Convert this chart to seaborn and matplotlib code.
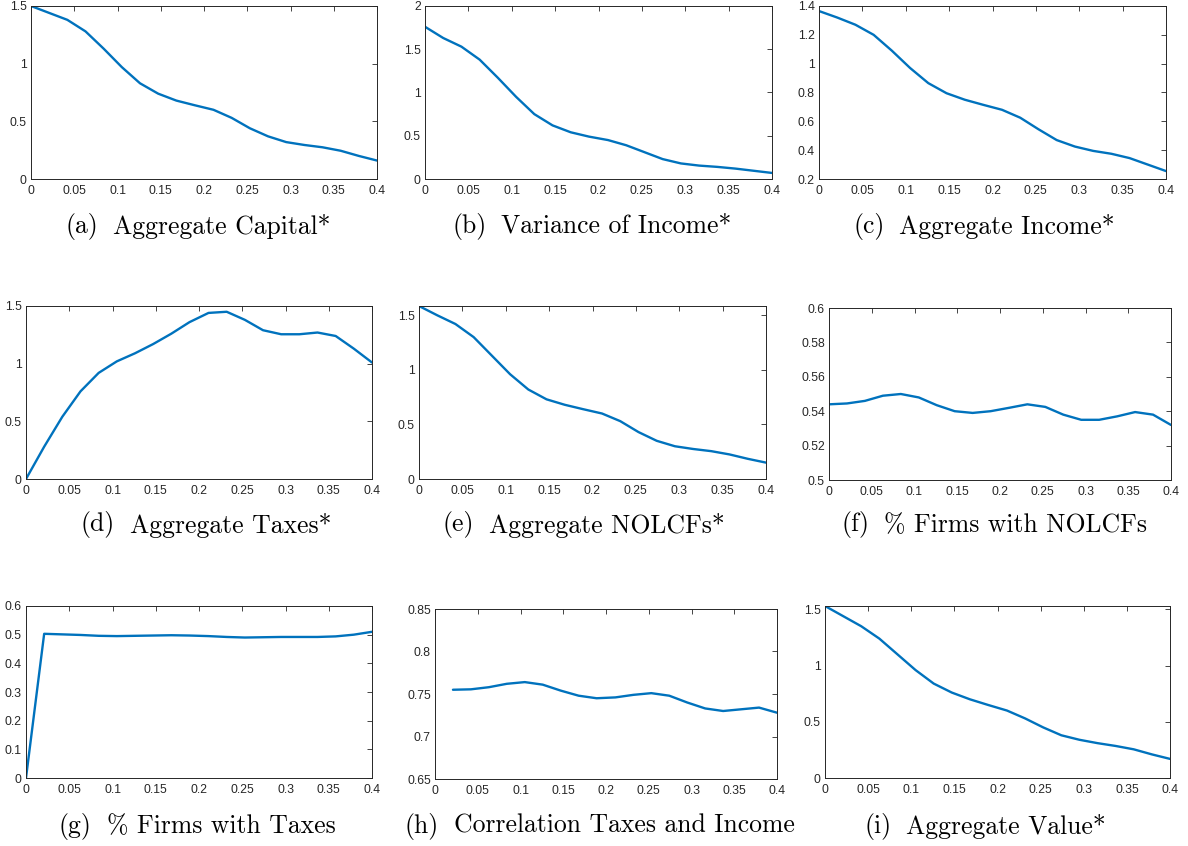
import matplotlib
matplotlib.use("Agg")
import matplotlib.pyplot as plt
import seaborn as sns
import numpy as np
from matplotlib.ticker import FuncFormatter, MultipleLocator

# ---- data ----
x_grid = [0.0, 0.021, 0.042, 0.063, 0.084, 0.105, 0.126, 0.147, 0.168, 0.189,
          0.211, 0.232, 0.253, 0.274, 0.295, 0.316, 0.337, 0.358, 0.379, 0.4]

agg_capital = [1.50, 1.44, 1.38, 1.28, 1.13, 0.97, 0.83, 0.74, 0.68, 0.64,
               0.60, 0.53, 0.44, 0.37, 0.32, 0.295, 0.275, 0.245, 0.20, 0.16]
var_income = [1.76, 1.63, 1.53, 1.38, 1.17, 0.95, 0.75, 0.62, 0.54, 0.49,
              0.45, 0.39, 0.31, 0.23, 0.18, 0.155, 0.14, 0.12, 0.095, 0.07]
agg_income = [1.365, 1.32, 1.27, 1.20, 1.09, 0.97, 0.865, 0.795, 0.75, 0.715,
              0.68, 0.625, 0.545, 0.47, 0.425, 0.395, 0.375, 0.345, 0.30, 0.255]
agg_taxes = [0.0, 0.28, 0.54, 0.76, 0.92, 1.02, 1.09, 1.17, 1.26, 1.36,
             1.44, 1.45, 1.38, 1.29, 1.255, 1.255, 1.27, 1.24, 1.13, 1.01]
agg_nolcf = [1.585, 1.50, 1.42, 1.30, 1.13, 0.96, 0.82, 0.73, 0.68, 0.64,
             0.60, 0.53, 0.43, 0.35, 0.30, 0.275, 0.255, 0.225, 0.185, 0.15]
pct_nolcf = [0.544, 0.5445, 0.546, 0.549, 0.550, 0.548, 0.5435, 0.540, 0.539, 0.540,
             0.542, 0.544, 0.5425, 0.538, 0.535, 0.535, 0.537, 0.5395, 0.538, 0.532]
pct_taxes = [0.0, 0.503, 0.501, 0.499, 0.496, 0.495, 0.496, 0.497, 0.498, 0.497,
             0.495, 0.492, 0.490, 0.491, 0.492, 0.492, 0.492, 0.494, 0.500, 0.510]
corr_tax_inc = [0.755, 0.7555, 0.758, 0.762, 0.764, 0.761, 0.754, 0.748, 0.745,
                0.746, 0.749, 0.751, 0.748, 0.740, 0.733, 0.730, 0.732, 0.734, 0.728]
agg_value = [1.53, 1.44, 1.35, 1.24, 1.10, 0.96, 0.84, 0.76, 0.70, 0.65,
             0.60, 0.53, 0.45, 0.38, 0.34, 0.31, 0.285, 0.255, 0.21, 0.17]

panel_labels = ["(a)", "(b)", "(c)", "(d)", "(e)", "(f)", "(g)", "(h)", "(i)"]
panel_titles = ["Aggregate Capital*", "Variance of Income*", "Aggregate Income*",
                "Aggregate Taxes*", "Aggregate NOLCFs*", "% Firms with NOLCFs",
                "% Firms with Taxes", "Correlation Taxes and Income", "Aggregate Value*"]

# ---- layout ----
W, H = 1188, 846
sns.set_style("white")
plt.rcParams['font.family'] = ['Liberation Sans', 'DejaVu Sans']

fig = plt.figure(figsize=(W / 100, H / 100), dpi=100)

# (left, top, right, bottom) in pixels
boxes = [(31, 6, 377, 179), (425, 6, 772, 179), (819, 6, 1166, 179),
         (26, 306, 372, 479), (419, 306, 766, 479), (829, 308, 1171, 480),
         (26, 606, 372, 778), (435, 609, 777, 779), (825, 606, 1170, 778)]
series = [(x_grid, agg_capital), (x_grid, var_income), (x_grid, agg_income),
          (x_grid, agg_taxes), (x_grid, agg_nolcf), (x_grid, pct_nolcf),
          (x_grid, pct_taxes), (x_grid[1:], corr_tax_inc), (x_grid, agg_value)]
ylims = [(0, 1.5, 0.5), (0, 2, 0.5), (0.2, 1.4, 0.2),
         (0, 1.5, 0.5), (0, 1.585, 0.5), (0.5, 0.6, 0.02),
         (0, 0.6, 0.1), (0.65, 0.85, 0.05), (0, 1.53, 0.5)]
cap_pos = [(198, 226), (592, 226), (984, 226),
           (206, 525), (584, 525), (994, 525),
           (197, 826), (600, 826), (985, 826)]

fmt = FuncFormatter(lambda v, p: f"{round(v, 4):g}")
axcol = "#262626"
cap_font = dict(fontsize=18.5, family=["cmr10", "DejaVu Serif"], color="black")
gap_px = 15

renderer = fig.canvas.get_renderer()

for i in range(9):
    l, t, r, b = boxes[i]
    ax = fig.add_axes([l / W, 1 - b / H, (r - l) / W, (b - t) / H])
    xs, ys = series[i]
    sns.lineplot(x=xs, y=ys, ax=ax, color="#0072BD", linewidth=1.7)
    ax.set_xlim(0, 0.4)
    y0, y1, st = ylims[i]
    ax.set_ylim(y0, y1)
    ax.xaxis.set_major_locator(MultipleLocator(0.05))
    ax.yaxis.set_major_locator(MultipleLocator(st))
    ax.xaxis.set_major_formatter(fmt)
    ax.yaxis.set_major_formatter(fmt)
    ax.tick_params(direction="in", length=3.5, width=0.6, colors=axcol,
                   labelsize=8.8, top=True, right=True, pad=3)
    ax.tick_params(axis="x", pad=4)
    for s in ax.spines.values():
        s.set_color(axcol)
        s.set_linewidth(0.7)
    ax.set_xlabel("")
    ax.set_ylabel("")

    # caption: label + title, centred as a block
    cx, cy = cap_pos[i]
    t1 = fig.text(0, 1 - cy / H, panel_labels[i], ha="left", va="center", **cap_font)
    t2 = fig.text(0, 1 - cy / H, panel_titles[i], ha="left", va="center", **cap_font)
    w1 = t1.get_window_extent(renderer).width
    w2 = t2.get_window_extent(renderer).width
    total = w1 + gap_px + w2
    x0 = cx - total / 2
    t1.set_x(x0 / W)
    t2.set_x((x0 + w1 + gap_px) / W)

fig.savefig("out.png", dpi=100)
